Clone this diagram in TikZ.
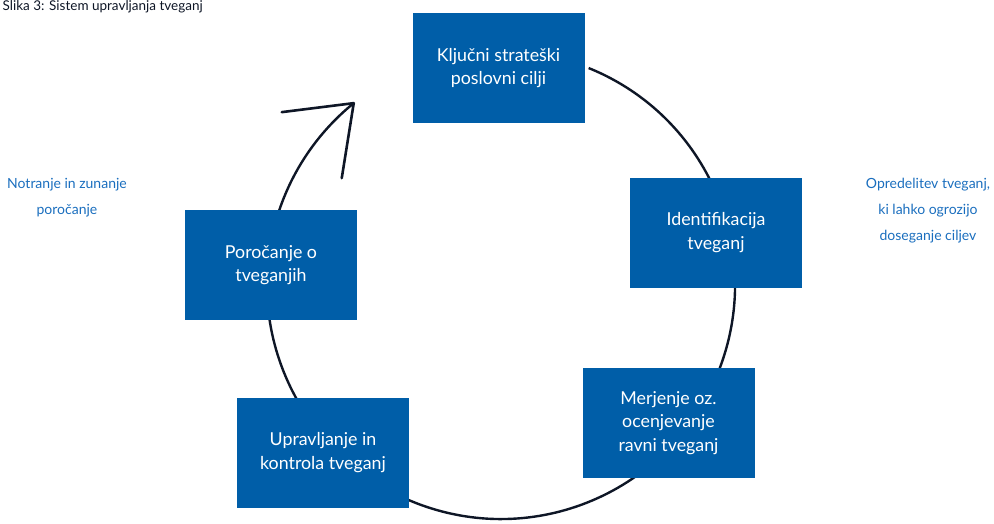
\documentclass[tikz,border=0pt]{standalone}
\usepackage{fontspec}
\setmainfont{Lato}
\definecolor{boxblue}{RGB}{0,94,168}
\definecolor{noteblue}{RGB}{26,110,190}
\definecolor{linecol}{RGB}{14,22,38}
\begin{document}
\begin{tikzpicture}[x=1pt,y=-1pt,
  box/.style={rectangle,fill=boxblue,text=white,minimum width=172pt,minimum height=110pt,
    inner sep=0pt,align=center,font=\fontsize{17.8}{23.5}\selectfont},
  note/.style={text=noteblue,align=center,inner sep=0pt,font=\fontsize{14}{26}\selectfont},
  ring/.style={draw=linecol,line width=2.4pt},
  barb/.style={draw=linecol,line width=2.6pt,line cap=round}]
\useasboundingbox (0,0) rectangle (994,523);
\clip (0,0) rectangle (994,523);
\coordinate (c) at (501,285);
\draw[ring] (c) ++(-68:234) arc[start angle=-68,end angle=231,radius=234] coordinate (tip);
\draw[barb] (tip) -- ++(-72,9);
\draw[barb] (tip) -- ++(-12,75);
\node[box] (k) at (498.5,68) {Ključni strateški\\poslovni cilji};
\node[box] (i) at (716,232.5) {Identifikacija\\tveganj};
\node[box] (m) at (668.5,423) {Merjenje oz.\\ocenjevanje\\ravni tveganj};
\node[box] (u) at (323,452.5) {Upravljanje in\\kontrola tveganj};
\node[box] (p) at (271,265) {Poročanje o\\tveganjih};
\node[note] (n1) at (67,198) {Notranje in zunanje\\poročanje};
\node[note] (n2) at (928,211) {Opredelitev tveganj,\\ki lahko ogrozijo\\doseganje ciljev};
\node[anchor=base east,inner sep=0pt,text=linecol,font=\fontsize{13.5}{15}\selectfont] (cap) at (203,10.5) {Slika 3: Sistem upravljanja tveganj};
\end{tikzpicture}
\end{document}
